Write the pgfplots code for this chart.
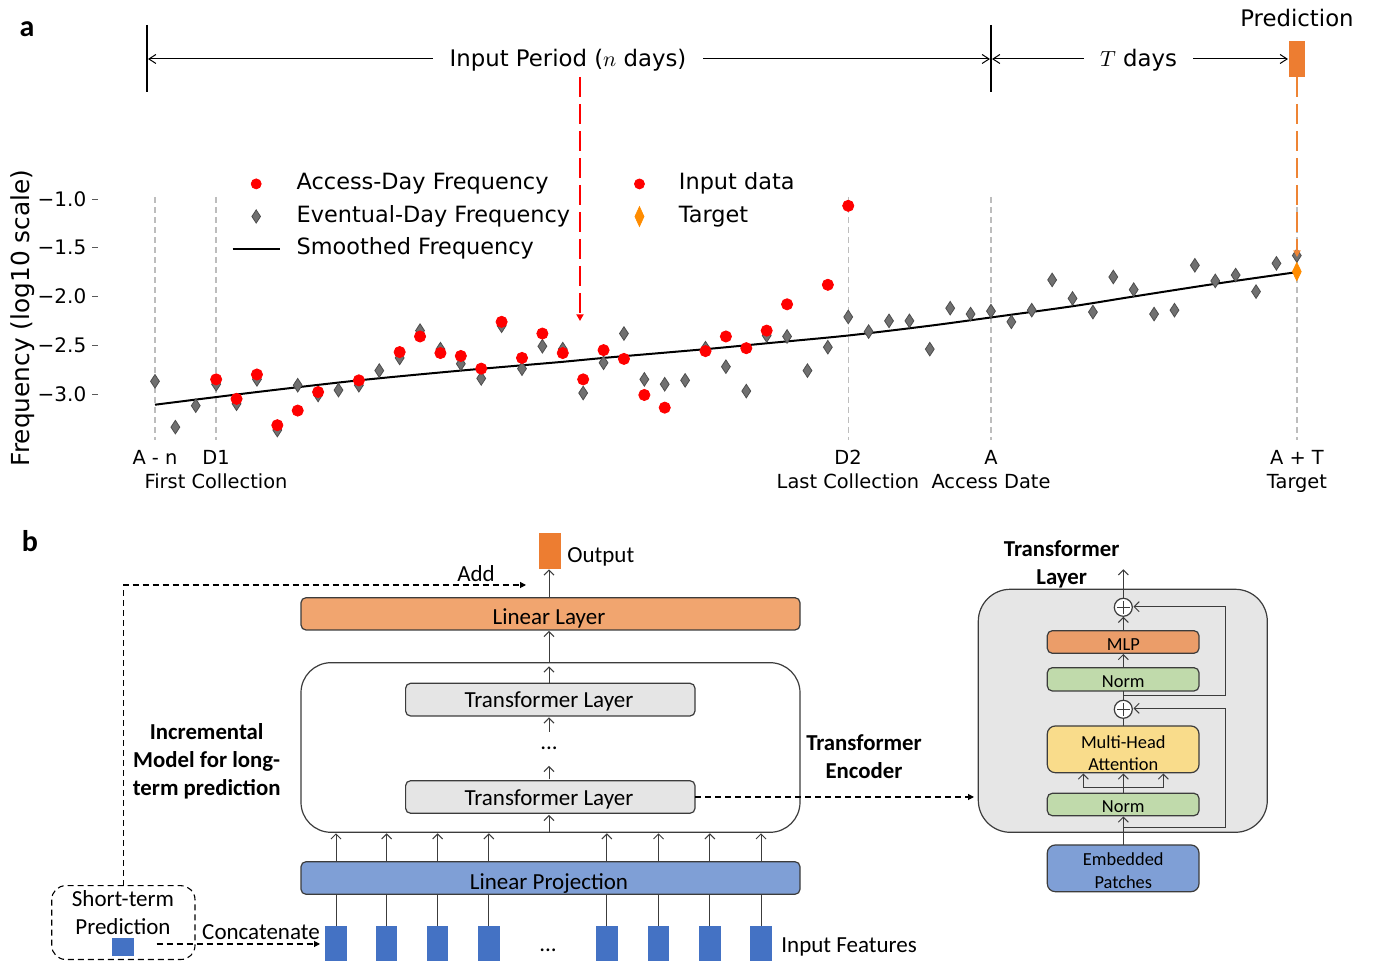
\documentclass[border=0pt]{standalone}
\usepackage{fontspec}
\setmainfont{DejaVu Sans}
\newfontfamily\dejavu{DejaVu Sans}
\newfontfamily\carl{Carlito}
\usepackage{pgfplots}
\pgfplotsset{compat=1.18}
\usetikzlibrary{arrows.meta}

\definecolor{orD}{HTML}{ED7D31}
\definecolor{linL}{HTML}{F1A56F}
\definecolor{tlg}{HTML}{E5E5E5}
\definecolor{linP}{HTML}{7F9FD6}
\definecolor{inB}{HTML}{4472C4}
\definecolor{boxg}{HTML}{E6E6E6}
\definecolor{mlpC}{HTML}{EB9D69}
\definecolor{normC}{HTML}{C0DAAB}
\definecolor{mhaC}{HTML}{F9DC8B}
\definecolor{brd}{HTML}{3C3C3C}
\definecolor{dgray}{HTML}{707070}
\definecolor{dgrayE}{HTML}{4D4D4D}
\definecolor{tgt}{HTML}{FF8C00}
\definecolor{vline}{HTML}{BDBDBD}
\definecolor{predO}{HTML}{EE8434}

\newcommand\fleg{\dejavu\fontsize{11.2}{13}\selectfont}
\newcommand\flab{\dejavu\fontsize{9.7}{11}\selectfont}
\newcommand\ftick{\dejavu\fontsize{10}{12}\selectfont}
\newcommand\fhead{\dejavu\fontsize{11.4}{13}\selectfont}
\newcommand\fbl{\carl\fontsize{11.5}{13}\selectfont}
\newcommand\fbs{\carl\fontsize{9.2}{11}\selectfont}
\newcommand\fbb{\carl\bfseries\fontsize{11.4}{13}\selectfont}
\newcommand\fpan{\carl\bfseries\fontsize{15}{17}\selectfont}

\pgfplotsset{
  geo/.style={at={(49.25pt,-221.375pt)}, anchor=south west, scale only axis,
    width=619.55pt, height=131.625pt,
    xmin=-2.77, xmax=58, ymin=-3.5, ymax=-0.8, clip=false},
  leg/.style={
    legend image code/.code={\path[draw=none, fill=none] (0pt,0pt) -- (23.5pt,0pt);
      \draw[mark repeat=2,mark phase=2,##1] plot coordinates {(0pt,0pt) (11.75pt,0pt) (23.5pt,0pt)};},
    legend cell align=left,
    legend style={draw=none, fill=none, inner sep=0pt, outer sep=0pt, font=\fleg,
      row sep=5.9pt, column sep=8pt,
      nodes={inner sep=0pt, text height=8pt, text depth=2.4pt}}},
}

\begin{document}
\begin{tikzpicture}[x=0.5pt,y=0.5pt,
  >={Straight Barb[length=2.5pt,width=5pt]},
  tb/.style={inner sep=0pt, anchor=base},
  box/.style={draw=brd, line width=0.6pt, rounded corners=2.5pt},
  ar/.style={brd, line width=0.5pt, ->},
  dsh/.style={black, line width=0.55pt, dash pattern=on 3pt off 2pt},
  tri/.style={-{Triangle[length=3pt,width=3pt]}}]
\useasboundingbox (0,0) rectangle (1373,-961);

% ---------------- panel a ----------------
\begin{axis}[geo,
  axis x line=none, axis y line*=left, y axis line style={draw=none},
  ytick={-1,-1.5,-2,-2.5,-3},
  yticklabels={{−1.0},{−1.5},{−2.0},{−2.5},{−3.0}},
  yticklabel style={font=\ftick, inner sep=0pt, xshift=-2.9pt},
  major tick length=3pt, tick align=outside,
  every tick/.style={black!65, line width=0.45pt},
  leg, legend style={at={(0.1075,0.8595)}, anchor=west},
]
\addlegendimage{only marks, mark=*, mark size=2.5pt, red}
\addlegendentry{Access-Day Frequency}
\addlegendimage{only marks, mark=diamond*, mark size=3.3pt, mark options={xscale=0.87, fill=dgray, draw=dgrayE, line width=0.4pt}}
\addlegendentry{Eventual-Day Frequency}
\addlegendimage{black, line width=1pt}
\addlegendentry{Smoothed Frequency}

\addplot[vline, line width=0.7pt, dash pattern=on 3.3pt off 1.7pt, forget plot] coordinates {(0,-0.977) (0,-3.472)};
\addplot[vline, line width=0.7pt, dash pattern=on 3.3pt off 1.7pt, forget plot] coordinates {(3,-0.977) (3,-3.472)};
\addplot[vline, line width=0.7pt, dash pattern=on 3.3pt off 1.7pt, forget plot] coordinates {(34,-0.977) (34,-3.472)};
\addplot[vline, line width=0.7pt, dash pattern=on 3.3pt off 1.7pt, forget plot] coordinates {(41,-0.977) (41,-3.472)};
\addplot[vline, line width=0.7pt, dash pattern=on 3.3pt off 1.7pt, forget plot] coordinates {(56,-0.977) (56,-3.472)};

\addplot[black, line width=1pt, smooth, forget plot] coordinates {
(0,-3.11) (5,-2.98) (10,-2.86) (15,-2.76) (20,-2.67) (22,-2.63) (27,-2.54) (30,-2.48)
(34,-2.40) (38,-2.30) (41,-2.215) (45,-2.10) (48,-2.00) (52,-1.87) (56,-1.75)};

\addplot[only marks, mark=diamond*, mark size=3.4pt, mark options={xscale=0.87, fill=dgray, draw=dgrayE, line width=0.4pt}, forget plot] coordinates {
(0,-2.87) (1,-3.34) (2,-3.12) (3,-2.90) (4,-3.10) (5,-2.85) (6,-3.37) (7,-2.91)
(8,-3.01) (9,-2.96) (10,-2.91) (11,-2.76) (12,-2.63) (13,-2.35) (14,-2.54) (15,-2.69)
(16,-2.84) (17,-2.30) (18,-2.74) (19,-2.51) (20,-2.54) (21,-2.99) (22,-2.68) (23,-2.38)
(24,-2.85) (25,-2.90) (26,-2.86) (27,-2.53) (28,-2.72) (29,-2.97) (30,-2.40) (31,-2.41)
(32,-2.76) (33,-2.52) (34,-2.21) (35,-2.36) (36,-2.25) (37,-2.25) (38,-2.54) (39,-2.12)
(40,-2.18) (41,-2.15) (42,-2.26) (43,-2.14) (44,-1.83) (45,-2.02) (46,-2.16) (47,-1.80)
(48,-1.93) (49,-2.18) (50,-2.14) (51,-1.68) (52,-1.84) (53,-1.78) (54,-1.95) (55,-1.66)
(56,-1.58)};

\addplot[only marks, mark=*, mark size=2.8pt, red, forget plot] coordinates {
(3,-2.85) (4,-3.05) (5,-2.80) (6,-3.32) (7,-3.17) (8,-2.98) (10,-2.86) (12,-2.57)
(13,-2.41) (14,-2.58) (15,-2.61) (16,-2.74) (17,-2.26) (18,-2.63) (19,-2.38) (20,-2.58)
(21,-2.85) (22,-2.55) (23,-2.64) (24,-3.01) (25,-3.14) (27,-2.56) (28,-2.41) (29,-2.53)
(30,-2.35) (31,-2.08) (33,-1.88) (34,-1.07)};

\addplot[only marks, mark=diamond*, mark size=4.5pt, mark options={xscale=0.65, fill=tgt, draw=tgt}, forget plot] coordinates {(56,-1.745)};
\end{axis}

\begin{axis}[geo, hide axis, leg, legend style={at={(0.4176,0.9212)}, anchor=west}]
\addlegendimage{only marks, mark=*, mark size=2.5pt, red}
\addlegendentry{Input data}
\addlegendimage{only marks, mark=diamond*, mark size=4.9pt, mark options={xscale=0.61, fill=tgt, draw=tgt}}
\addlegendentry{Target}
\end{axis}

% y label
\node[rotate=90, inner sep=0pt, anchor=base, font=\dejavu\fontsize{12.4}{14}\selectfont] at (29,-318) {Frequency (log10 scale)};

% labels under plot
\node[tb, font=\flab] at (155,-465) {A - n};
\node[tb, font=\flab] at (216,-465) {D1};
\node[tb, font=\flab] at (216,-489) {First Collection};
\node[tb, font=\flab] at (848,-465) {D2};
\node[tb, font=\flab] at (848,-489) {Last Collection};
\node[tb, font=\flab] at (991,-465) {A};
\node[tb, font=\flab] at (991,-489) {Access Date};
\node[tb, font=\flab] at (1297,-465) {A + T};
\node[tb, font=\flab] at (1297,-489) {Target};

% header
\node[tb, font=\fpan] at (27,-37) {a};
\draw[black, line width=0.7pt] (147,-25) -- (147,-92);
\draw[black, line width=0.7pt] (991,-25) -- (991,-92);
\draw[black, line width=0.5pt, {Straight Barb[length=3.5pt,width=4.5pt]}-] (148,-59) -- (433,-59);
\draw[black, line width=0.5pt, -{Straight Barb[length=3.5pt,width=4.5pt]}] (703,-59) -- (990,-59);
\node[tb, font=\fhead] at (568,-67) {Input Period ($n$ days)};
\draw[black, line width=0.5pt, {Straight Barb[length=3.5pt,width=4.5pt]}-] (992,-59) -- (1084,-59);
\draw[black, line width=0.5pt, -{Straight Barb[length=3.5pt,width=4.5pt]}] (1193,-59) -- (1288,-59);
\node[tb, font=\fhead] at (1138.5,-67) {$T$ days};
\fill[orD] (1289,-41) rectangle (1305,-77);
\node[tb, font=\fhead] at (1297,-27) {Prediction};
\draw[red, line width=1pt, dash pattern=on 10pt off 3.5pt, -{Triangle[length=3.3pt,width=3.5pt]}] (580,-77) -- (580,-321);
\draw[predO, line width=1pt, dash pattern=on 10pt off 3.5pt, -{Triangle[length=3.3pt,width=3.5pt]}] (1297,-77) -- (1297,-257);

% ---------------- panel b ----------------
\node[tb, font=\fpan] at (30,-551.7) {b};

% output
\fill[orD] (539,-533.3) rectangle (561,-568.7);
\node[tb, anchor=base west, font=\fbl] at (567,-563) {Output};
\draw[ar] (549,-597.7) -- (549,-569.5);
\draw[box, fill=linL] (301,-597.7) rectangle (800,-630);
\node[tb, font=\fbl] at (549,-625) {Linear Layer};
\draw[ar] (549,-662.7) -- (549,-631);

% encoder
\draw[draw=brd, line width=0.6pt, rounded corners=15pt, fill=white] (301,-662.7) rectangle (800,-832.3);
\draw[box, fill=tlg] (405.6,-683.3) rectangle (695,-716);
\node[tb, font=\fbl] at (549,-708) {Transformer Layer};
\draw[ar] (549,-683.3) -- (549,-666.5);
\draw[ar] (549,-732) -- (549,-717.5);
\node[tb, font=\fbl] at (549,-750) {...};
\draw[ar] (549,-779.5) -- (549,-766);
\draw[box, fill=tlg] (405.6,-780.7) rectangle (695,-813.3);
\node[tb, font=\fbl] at (549,-805.7) {Transformer Layer};
\draw[ar] (549,-832.3) -- (549,-815);
\node[tb, font=\fbb] at (864,-750.5) {Transformer};
\node[tb, font=\fbb] at (864,-778.5) {Encoder};

% linear projection
\draw[box, fill=linP] (301,-861.7) rectangle (800,-894.3);
\node[tb, font=\fbl] at (549,-890) {Linear Projection};
\foreach \xx in {336,386.7,437.7,488.8,606.8,658.5,709.9,761}{
  \draw[ar] (\xx,-861.7) -- (\xx,-833.3);
  \draw[brd, line width=0.5pt] (\xx,-926) -- (\xx,-894.3);
  \fill[inB] (\xx-10.7,-926) rectangle (\xx+10.7,-962);
}
\node[tb, font=\fbl] at (548,-951.7) {...};
\node[tb, anchor=base west, font=\fbl] at (781,-953) {Input Features};

% incremental
\node[tb, font=\fbb] at (206.7,-739.3) {Incremental};
\node[tb, font=\fbb] at (206.7,-767.3) {Model for long-};
\node[tb, font=\fbb] at (206.7,-795.3) {term prediction};

\draw[dsh, tri] (123.3,-885.7) -- (123.3,-585) -- (526,-585);
\node[tb, font=\fbl] at (476,-582) {Add};

\draw[dsh, rounded corners=7pt] (51.7,-885.7) rectangle (195,-959.5);
\node[tb, font=\fbl] at (123,-906.7) {Short-term};
\node[tb, font=\fbl] at (123,-935) {Prediction};
\fill[inB] (112,-938) rectangle (134,-955.7);
\draw[dsh, tri] (156.7,-944) -- (320,-944);
\node[tb, font=\fbl] at (261,-940) {Concatenate};

\draw[dsh, tri] (695,-797) -- (974,-797);

% transformer layer detail
\node[tb, font=\fbb] at (1061.7,-556.7) {Transformer};
\node[tb, font=\fbb] at (1061.7,-585) {Layer};
\draw[draw=brd, line width=0.6pt, rounded corners=16pt, fill=boxg] (978.3,-589.3) rectangle (1267.3,-832.3);
\draw[ar] (1123.3,-598.3) -- (1123.3,-569.3);
\draw[box, fill=mlpC] (1047.3,-630.7) rectangle (1199,-653.3);
\node[tb, font=\fbs] at (1123.3,-650.7) {MLP};
\draw[ar] (1123.3,-630.7) -- (1123.3,-616.8);
\draw[box, fill=normC] (1047.3,-667.7) rectangle (1199,-691);
\node[tb, font=\fbs] at (1123.3,-687.7) {Norm};
\draw[ar] (1123.3,-667.7) -- (1123.3,-654);
\draw[brd, line width=0.5pt] (1123.3,-700.3) -- (1123.3,-691);
\draw[ar] (1123.3,-695.7) -- (1225,-695.7) -- (1225,-606.7) -- (1133.5,-606.7);
\draw[box, rounded corners=4pt, fill=mhaC] (1047.3,-726) rectangle (1199,-772.7);
\node[tb, font=\fbs] at (1123.3,-748.3) {Multi-Head};
\node[tb, font=\fbs] at (1123.3,-770.7) {Attention};
\draw[brd, line width=0.5pt] (1123.3,-726) -- (1123.3,-718.3);
\draw[ar] (1123.3,-827.7) -- (1225,-827.7) -- (1225,-708.3) -- (1133.5,-708.3);
\draw[box, fill=normC] (1047.3,-793.3) rectangle (1199,-815.7);
\node[tb, font=\fbs] at (1123.3,-812.7) {Norm};
\draw[brd, line width=0.5pt] (1123.3,-793.3) -- (1123.3,-787.7);
\draw[brd, line width=0.5pt] (1083.3,-787.7) -- (1163.3,-787.7);
\foreach \xx in {1083.3,1123.3,1163.3}{\draw[ar] (\xx,-787.7) -- (\xx,-773.5);}
\draw[box, rounded corners=4pt, fill=linP] (1047.3,-845) rectangle (1199,-891.7);
\node[tb, font=\fbs] at (1123.3,-866) {Embedded};
\node[tb, font=\fbs] at (1123.3,-888.3) {Patches};
\draw[ar] (1123.3,-845) -- (1123.3,-816.5);
\foreach \yy in {607.3,709.3}{
  \draw[brd, line width=0.6pt, fill=white] (1123.3,-\yy) circle (9);
  \draw[brd, line width=0.6pt] (1116.8,-\yy) -- (1129.8,-\yy) (1123.3,-\yy+6.5) -- (1123.3,-\yy-6.5);
}
\end{tikzpicture}
\end{document}
